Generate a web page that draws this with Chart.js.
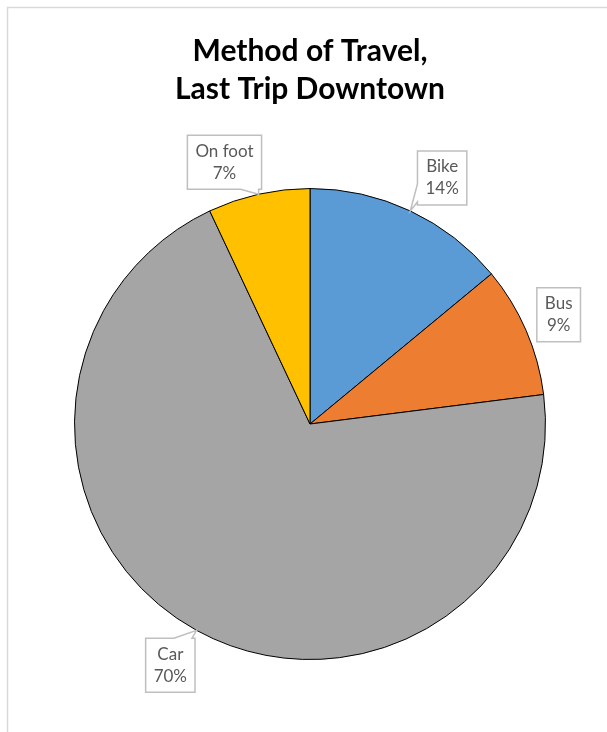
<!DOCTYPE html>
<html>
<head>
<meta charset="utf-8">
<script src="https://cdn.jsdelivr.net/npm/chart.js@4"></script>
<style>
    body { margin: 0; background: #fff; }
    canvas { display: block; }
</style>
</head>
<body>
<canvas id="myChart" width="607" height="732"></canvas>
<script>
const categories = ['Bike', 'Bus', 'Car', 'On foot'];
const shares = [14, 9, 70, 7];
const sliceColors = ['#5b9bd5', '#ed7d31', '#a5a5a5', '#ffc000'];
const titleLines = ['Method of Travel,', 'Last Trip Downtown'];

// outer chart frame, cut off at the right and bottom like the original
const framePlugin = {
    id: 'frame',
    beforeDraw(chart) {
        const ctx = chart.ctx;
        ctx.save();
        ctx.fillStyle = '#fff';
        ctx.fillRect(0, 0, chart.width, chart.height);
        ctx.strokeStyle = '#d9d9d9';
        ctx.lineWidth = 1.5;
        ctx.strokeRect(7.5, 7.5, chart.width + 20, chart.height + 20);
        ctx.restore();
    }
};

// callout boxes with a small pointer toward the slice
const calloutPlugin = {
    id: 'callouts',
    afterDatasetsDraw(chart, args, opts) {
        const ctx = chart.ctx;
        const meta = chart.getDatasetMeta(0);
        const values = chart.data.datasets[0].data;
        const total = values.reduce((a, b) => a + b, 0);

        ctx.save();
        ctx.font = opts.font;
        meta.data.forEach((arc, i) => {
            const p = arc.getProps(['x', 'y', 'startAngle', 'endAngle', 'outerRadius'], true);
            const mid = (p.startAngle + p.endAngle) / 2;
            const tip = {
                x: p.x + p.outerRadius * Math.cos(mid),
                y: p.y + p.outerRadius * Math.sin(mid)
            };
            const off = opts.offsets[i];
            const cx = p.x + (p.outerRadius + opts.distance) * Math.cos(mid) + off[0];
            const cy = p.y + (p.outerRadius + opts.distance) * Math.sin(mid) + off[1];

            const lines = [chart.data.labels[i], Math.round(values[i] / total * 100) + '%'];
            const w = Math.max(...lines.map(l => ctx.measureText(l).width)) + opts.padX * 2;
            const h = opts.boxHeight;
            const l = cx - w / 2, r = cx + w / 2, t = cy - h / 2, b = cy + h / 2;

            ctx.beginPath();
            ctx.moveTo(l, t);
            let wedge = null;
            if (opts.leaders[i]) {
                const below = tip.y - b, above = t - tip.y;
                const left = l - tip.x, right = tip.x - r;
                const m = opts.wedgeMargin, hw = opts.wedgeHalf;
                if (Math.max(below, above) >= Math.max(left, right)) {
                    const bx = Math.min(Math.max(tip.x, l + m), r - m);
                    wedge = { edge: below > above ? 'bottom' : 'top', a: bx - hw, c: bx + hw };
                } else {
                    const by = Math.min(Math.max(tip.y, t + m), b - m);
                    wedge = { edge: left > right ? 'left' : 'right', a: by - hw, c: by + hw };
                }
            }
            if (wedge && wedge.edge === 'top') {
                ctx.lineTo(wedge.a, t); ctx.lineTo(tip.x, tip.y); ctx.lineTo(wedge.c, t);
            }
            ctx.lineTo(r, t);
            if (wedge && wedge.edge === 'right') {
                ctx.lineTo(r, wedge.a); ctx.lineTo(tip.x, tip.y); ctx.lineTo(r, wedge.c);
            }
            ctx.lineTo(r, b);
            if (wedge && wedge.edge === 'bottom') {
                ctx.lineTo(wedge.c, b); ctx.lineTo(tip.x, tip.y); ctx.lineTo(wedge.a, b);
            }
            ctx.lineTo(l, b);
            if (wedge && wedge.edge === 'left') {
                ctx.lineTo(l, wedge.c); ctx.lineTo(tip.x, tip.y); ctx.lineTo(l, wedge.a);
            }
            ctx.closePath();
            ctx.fillStyle = '#fff';
            ctx.fill();
            ctx.strokeStyle = opts.borderColor;
            ctx.lineWidth = 1.5;
            ctx.stroke();

            ctx.fillStyle = opts.color;
            ctx.textAlign = 'center';
            ctx.textBaseline = 'middle';
            ctx.fillText(lines[0], cx, cy - opts.lineGap / 2);
            ctx.fillText(lines[1], cx, cy + opts.lineGap / 2);
        });
        ctx.restore();
    }
};

const ctx = document.getElementById('myChart').getContext('2d');

new Chart(ctx, {
    type: 'pie',
    data: {
        labels: categories,
        datasets: [{
            data: shares,
            backgroundColor: sliceColors,
            borderColor: '#000',
            borderWidth: 1
        }]
    },
    options: {
        responsive: false,
        animation: false,
        layout: {
            padding: { left: 74, right: 61, top: 0, bottom: 72 }
        },
        plugins: {
            legend: { display: false },
            tooltip: { enabled: false },
            title: {
                display: true,
                text: titleLines,
                color: '#000',
                font: { family: 'Lato', size: 30, weight: 'bold', lineHeight: 1.267 },
                padding: { top: 32, bottom: 80 }
            },
            callouts: {
                font: '17px Lato',
                color: '#595959',
                borderColor: '#bfbfbf',
                distance: 42,
                padX: 8,
                boxHeight: 54,
                lineGap: 22,
                wedgeMargin: 12,
                wedgeHalf: 9,
                leaders: [true, false, true, true],
                offsets: [[14, 5], [-6, 1], [-6, -2], [-25, 9]]
            }
        }
    },
    plugins: [framePlugin, calloutPlugin]
});
</script>
</body>
</html>
